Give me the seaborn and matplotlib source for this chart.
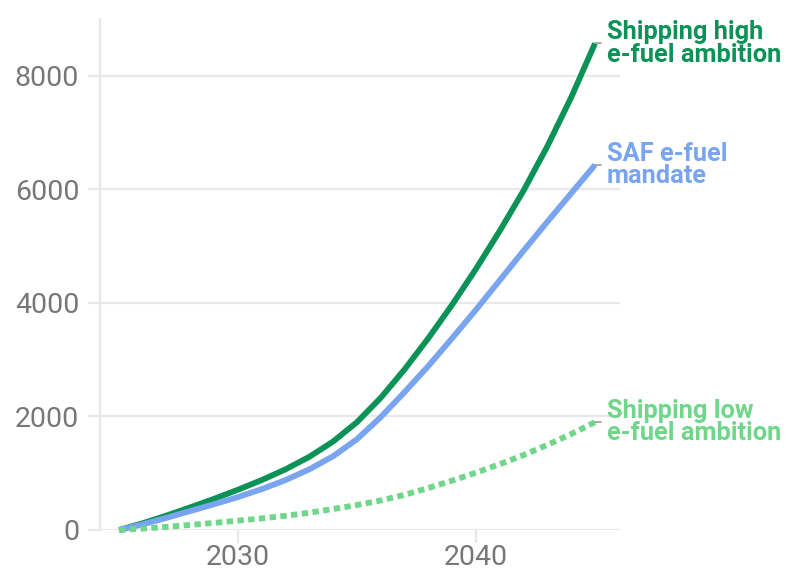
import matplotlib
matplotlib.use("Agg")
import matplotlib.pyplot as plt
import seaborn as sns
import pandas as pd

years = list(range(2025, 2046))
ship_high = [0, 120, 255, 400, 550, 710, 880, 1070, 1290, 1560, 1900,
             2330, 2830, 3380, 3970, 4600, 5270, 5980, 6760, 7620, 8570]
saf_mandate = [0, 100, 215, 335, 455, 580, 720, 880, 1070, 1300, 1600,
               1990, 2430, 2890, 3380, 3880, 4400, 4920, 5430, 5930, 6430]
ship_low = [0, 25, 55, 90, 125, 165, 205, 250, 305, 370, 440,
            520, 620, 740, 870, 1010, 1160, 1320, 1500, 1690, 1900]

series_names = ["Shipping high\ne-fuel ambition", "SAF e-fuel\nmandate", "Shipping low\ne-fuel ambition"]
series_values = [ship_high, saf_mandate, ship_low]
colors = ["#0a9257", "#79a4f0", "#6fd68a"]
styles = ["-", "-", (0, (1.1, 0.75))]

y_ticks = [0, 2000, 4000, 6000, 8000]
x_ticks = [2030, 2040]

sns.set_theme(style="white")
plt.rcParams["font.family"] = ["Roboto", "DejaVu Sans"]

fig = plt.figure(figsize=(7.99, 5.73), dpi=100)
W, H = 799, 573
ax = fig.add_axes([100 / W, 43 / H, 520 / W, (530 - 19) / H])

for name, vals, col, ls in zip(series_names, series_values, colors, styles):
    df = pd.DataFrame({"year": years, "value": vals})
    sns.lineplot(data=df, x="year", y="value", ax=ax, color=col, linewidth=4.2,
                 linestyle=ls, clip_on=False, zorder=3)
    l = ax.lines[-1]
    l.set_solid_capstyle("butt")
    l.set_dash_capstyle("butt")
    l.set_solid_joinstyle("round")

ax.set_xlim(2024.2, 2046.05)
ax.set_ylim(0, 9000)
ax.set_yticks(y_ticks)
ax.set_yticklabels([str(v) for v in y_ticks])
ax.set_xticks(x_ticks)
ax.set_xticklabels([str(v) for v in x_ticks])
ax.set_xlabel("")
ax.set_ylabel("")

grid_col = "#e8e8e8"
ax.grid(axis="y", color=grid_col, linewidth=1.6)
ax.grid(axis="x", visible=False)
ax.set_axisbelow(True)
for s in ["top", "right", "bottom"]:
    ax.spines[s].set_visible(False)
ax.spines["left"].set_color(grid_col)
ax.spines["left"].set_linewidth(1.6)

ax.tick_params(axis="y", length=9, width=1.6, color=grid_col, pad=6,
               labelsize=20.5, labelcolor="#777777", left=True)
ax.tick_params(axis="x", length=9, width=1.6, color=grid_col, pad=1,
               labelsize=20.5, labelcolor="#777777", bottom=True)

# end labels
for name, vals, col in zip(series_names, series_values, colors):
    xe, ye = years[-1], vals[-1]
    ax.plot([xe, xe + 0.25], [ye, ye], color="#999999", linewidth=1.2,
            clip_on=False, zorder=4)
    ax.annotate(name, xy=(xe, ye), xytext=(8.5, 0), textcoords="offset points",
                ha="left", va="center", fontsize=18.3, fontweight="bold",
                color=col, linespacing=0.92, annotation_clip=False)

fig.savefig("out.png", dpi=100)
